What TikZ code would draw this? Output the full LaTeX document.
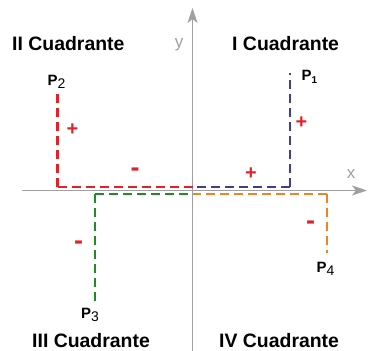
\documentclass[tikz,border=0pt]{standalone}
\usepackage{fontspec}
\setmainfont{Liberation Sans}
\usetikzlibrary{arrows.meta}
\definecolor{redc}{RGB}{228,32,40}
\definecolor{bluec}{RGB}{62,62,150}
\definecolor{greenc}{RGB}{34,140,34}
\definecolor{orangec}{RGB}{240,130,40}
\definecolor{axisgray}{RGB}{160,160,160}
\tikzset{
  axisline/.style={draw=axisgray, line width=1.8bp, -{Stealth[length=15bp,width=10bp,inset=4bp]}},
  proj/.style={line width=2.5bp, dash pattern=on 9bp off 5bp},
  quadlabel/.style={inner sep=0pt, anchor=base west, font=\bfseries\fontsize{19.5}{20}\selectfont},
  plabel/.style={inner sep=0pt, anchor=base west, font=\bfseries\fontsize{15}{15}\selectfont},
  axislabel/.style={inner sep=0pt, text=axisgray, font=\fontsize{17}{17}\selectfont},
  plussign/.style={inner sep=0pt, text=redc, font=\bfseries\fontsize{20}{20}\selectfont},
  minussign/.style={inner sep=0pt, text=redc, font=\bfseries\fontsize{27}{27}\selectfont}
}
\newcommand{\subidx}[1]{\raisebox{-3bp}{\fontsize{14}{14}\selectfont\mdseries #1}}
\begin{document}
\begin{tikzpicture}[x=1bp,y=-1bp]
\useasboundingbox (0,0) rectangle (368,351);
% axes
\coordinate (xs) at (22,190.5);
\coordinate (xe) at (367,190.5);
\coordinate (ys) at (192.5,351);
\coordinate (ye) at (192.5,8);
\draw[axisline] (xs) -- (xe);
\draw[axisline] (ys) -- (ye);
\node[axislabel] (ylab) at (179,45) {y};
\node[axislabel] (xlab) at (351,174) {x};
% projections
\coordinate (P1) at (290,73);
\coordinate (C1) at (290,187);
\coordinate (O1) at (192.5,187);
\coordinate (P2) at (57.5,91);
\coordinate (C2) at (57.5,187);
\coordinate (O2) at (192.5,187);
\coordinate (P3) at (95,306);
\coordinate (C3) at (95,194);
\coordinate (O3) at (192.5,194);
\coordinate (P4) at (327,253);
\coordinate (C4) at (327,194);
\coordinate (O4) at (192.5,194);
\draw[proj, draw=redc] (C2) -- (P2);
\draw[proj, draw=redc] (C2) -- (O2);
\draw[proj, draw=bluec] (C1) -- (P1);
\draw[proj, draw=bluec] (C1) -- (O1);
\draw[proj, draw=greenc] (C3) -- (P3);
\draw[proj, draw=greenc] (C3) -- (O3);
\draw[proj, draw=orangec] (C4) -- (P4);
\draw[proj, draw=orangec] (C4) -- (O4);
% point labels
\node[plabel] (lP2) at (47.5,85.5) {P\subidx{2}};
\node[plabel] (lP1) at (301.5,80.5) {P\raisebox{-2.5bp}{\fontsize{10}{10}\selectfont 1}};
\node[plabel] (lP3) at (81,318.5) {P\subidx{3}};
\node[plabel] (lP4) at (316.5,272.5) {P\subidx{4}};
% signs
\node[plussign] (s1) at (72.5,130) {+};
\node[plussign] (s2) at (301.5,123) {+};
\node[plussign] (s3) at (251,174) {+};
\node[minussign] (s4) at (135,172) {-};
\node[minussign] (s5) at (78.5,245) {-};
\node[minussign] (s6) at (310.5,225) {-};
% quadrant labels
\node[quadlabel] (q2) at (12,50.5) {II Cuadrante};
\node[quadlabel] (q1) at (232,50) {I Cuadrante};
\node[quadlabel] (q3) at (32,347) {III Cuadrante};
\node[quadlabel] (q4) at (219,347) {IV Cuadrante};
\end{tikzpicture}
\end{document}
